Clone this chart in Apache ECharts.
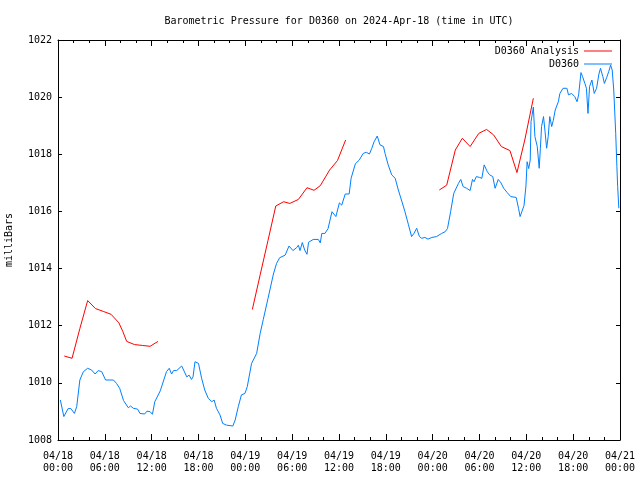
<!DOCTYPE html>
<html>
<head>
<meta charset="utf-8">
<script src="https://cdn.jsdelivr.net/npm/echarts@6/dist/echarts.min.js"></script>
<style>html,body{margin:0;padding:0;background:#fff}#c{width:640px;height:480px}</style>
</head>
<body>
<div id="c"></div>
<script>
// Hours since 2024-04-18 00:00 UTC
var analysisHours = [0.8,1.8,2.8,3.8,4.8,5.8,6.8,7.8,8.3,8.8,9.8,10.8,11.8,12.8,
  18,
  24.9,25.9,26.9,27.9,28.9,29.7,30.8,31.9,32.8,33.6,34.8,35.8,36.85,
  42,
  48.85,49.8,50.9,51.8,52.8,53.9,54.9,55.8,56.8,57.9,58.8,59.8,60.9];
var analysisValues = [1010.94,1010.86,1011.9,1012.88,1012.6,1012.5,1012.4,1012.1,1011.8,1011.45,1011.34,1011.31,1011.28,1011.45,
  null,
  1012.57,1013.78,1014.98,1016.19,1016.34,1016.28,1016.42,1016.83,1016.74,1016.9,1017.45,1017.78,1018.5,
  null,
  1016.75,1016.92,1018.15,1018.56,1018.27,1018.73,1018.87,1018.68,1018.27,1018.13,1017.36,1018.5,1019.96];

var obsHours = [0.3,0.75,1.3,1.65,2.1,2.4,2.8,3.25,3.8,4.3,4.75,5.15,5.6,6.1,7.1,7.5,7.9,8.4,9.0,9.3,9.65,10.2,10.5,11.1,11.4,11.8,12.1,12.4,
  13.1,13.9,14.25,14.55,14.8,15.2,15.85,16.1,16.5,16.8,17.1,17.3,17.55,17.7,18.0,18.4,18.8,19.25,19.7,20.0,20.3,20.75,21.1,21.6,22.4,22.7,23.1,23.5,23.95,
  24.25,24.8,25.45,25.9,26.3,26.9,27.6,28.0,28.4,29.1,29.3,29.6,30.1,30.6,30.8,31.0,31.3,31.6,31.9,32.1,32.7,33.35,33.6,33.8,34.2,34.6,35.1,35.6,
  36.05,36.35,36.8,37.3,37.55,38.1,38.6,39.1,39.5,39.9,40.2,40.5,40.9,41.25,41.7,41.9,42.3,42.75,43.2,43.6,44.0,44.45,44.9,45.3,45.6,45.95,46.3,46.6,47.0,47.4,47.9,
  48.5,49.15,49.6,49.9,50.3,50.7,51.3,51.6,51.9,52.35,52.8,53.1,53.3,53.6,54.0,54.3,54.6,55.0,55.3,55.7,56.0,56.4,56.75,57.1,57.55,58.0,58.7,59.0,59.2,59.4,59.7,59.95,
  60.1,60.3,60.5,60.6,60.75,60.9,61.1,61.4,61.65,61.8,61.95,62.2,62.4,62.6,62.8,63.0,63.25,63.45,63.7,63.9,64.1,64.3,64.7,65.2,65.4,65.8,66.2,66.5,66.7,
  67.0,67.2,67.3,67.5,67.7,67.9,68.1,68.4,68.7,69.0,69.3,69.5,69.8,70.0,70.3,70.55,70.8,71.0,71.2,71.45,71.6,71.7,71.85];
var obsValues = [1009.40,1008.82,1009.10,1009.10,1008.93,1009.17,1010.10,1010.39,1010.51,1010.45,1010.31,1010.43,1010.39,1010.10,1010.10,1009.98,1009.81,1009.38,1009.13,1009.19,1009.11,1009.08,1008.93,1008.91,1009.01,1008.99,1008.90,1009.34,
  1009.72,1010.39,1010.51,1010.31,1010.43,1010.43,1010.59,1010.54,1010.21,1010.27,1010.12,1010.21,1010.74,1010.80,1010.68,1010.16,1009.75,1009.46,1009.34,1009.40,1009.11,1008.88,1008.58,1008.52,1008.49,1008.70,1009.17,1009.58,1009.63,
  1009.87,1010.68,1011.03,1011.73,1012.22,1012.95,1013.81,1014.18,1014.38,1014.47,1014.40,1014.79,1014.63,1014.74,1014.82,1014.63,1014.91,1014.65,1014.50,1014.92,1015.02,1015.02,1014.90,1015.23,1015.23,1015.40,1015.99,1015.82,
  1016.30,1016.22,1016.61,1016.61,1017.16,1017.67,1017.80,1018.03,1018.07,1018.01,1018.21,1018.44,1018.64,1018.33,1018.27,1018.03,1017.63,1017.28,1017.16,1016.75,1016.40,1015.99,1015.53,1015.12,1015.23,1015.41,1015.12,1015.06,1015.09,1015.03,1015.09,
  1015.12,1015.23,1015.29,1015.40,1015.99,1016.63,1016.98,1017.12,1016.87,1016.81,1016.73,1017.12,1017.04,1017.22,1017.19,1017.16,1017.63,1017.39,1017.28,1017.22,1016.81,1017.12,1017.00,1016.81,1016.66,1016.52,1016.49,1016.11,1015.82,1015.76,1016.20,1016.89,
  1017.74,1017.50,1017.80,1019.14,1019.10,1019.65,1018.62,1018.27,1017.51,1018.21,1018.97,1019.32,1018.79,1018.21,1018.62,1019.32,1018.97,1019.18,1019.55,1019.49,1019.84,1020.13,1020.31,1020.31,1020.08,1020.13,1020.02,1019.84,1020.08,
  1020.86,1020.72,1020.66,1020.48,1020.31,1019.43,1020.37,1020.60,1020.13,1020.31,1020.81,1021.01,1020.72,1020.48,1020.69,1020.89,1021.12,1020.95,1020.25,1018.73,1017.57,1016.87,1016.11];

var yTicks = [1008,1010,1012,1014,1016,1018,1020,1022];
var titleText = 'Barometric Pressure for D0360 on 2024-Apr-18 (time in UTC)';

function pairs(xs, ys){ var out=[]; for(var i=0;i<xs.length;i++){ out.push([xs[i], ys[i]===null ? '-' : ys[i]]); } return out; }
function pad(n){ return (n<10?'0':'')+n; }
function xLabel(v){
  if (v % 6 !== 0) return '';
  var day = 18 + Math.floor(v/24);
  var hr = v % 24;
  return '04/' + pad(day) + '\n' + pad(hr) + ':00';
}

var FONT = 'DejaVu Sans Mono';
var chart = echarts.init(document.getElementById('c'), null, {renderer:'canvas'});
var xCommon = {
  type:'value', min:0, max:72, interval:6,
  axisLine:{show:true, onZero:false, lineStyle:{color:'#000', width:1}},
  axisTick:{show:true, inside:true, length:6, lineStyle:{color:'#000'}},
  minorTick:{show:true, splitNumber:3, length:3, lineStyle:{color:'#000'}},
  splitLine:{show:false}
};
var yCommon = {
  type:'value', min:1008, max:1022, interval:2,
  axisLine:{show:true, onZero:false, lineStyle:{color:'#000', width:1}},
  axisTick:{show:true, inside:true, length:4, lineStyle:{color:'#000'}},
  splitLine:{show:false}
};
chart.setOption({
  animation:false,
  backgroundColor:'#fff',
  title:{text:titleText, left:334, top:11, textAlign:'center',
    textStyle:{fontFamily:FONT, fontSize:10, fontWeight:'normal', color:'#000'}},
  legend:{
    data:['D0360 Analysis','D0360'], orient:'vertical', right:23, top:41, align:'right',
    icon:'rect', itemWidth:28, itemHeight:1, itemGap:3,
    textStyle:{fontFamily:FONT, fontSize:10, color:'#000'}
  },
  grid:{left:58, right:20, top:40, bottom:40, containLabel:false, outerBoundsMode:'none'},
  xAxis:[
    Object.assign({}, xCommon, {position:'bottom',
      axisLabel:{show:true, formatter:xLabel, fontFamily:FONT, fontSize:10, color:'#000', lineHeight:12, margin:10, showMinLabel:true, showMaxLabel:true}}),
    Object.assign({}, xCommon, {position:'top', axisLabel:{show:false}})
  ],
  yAxis:[
    Object.assign({}, yCommon, {position:'left',
      name:'milliBars', nameLocation:'middle', nameGap:44, nameRotate:90,
      nameTextStyle:{fontFamily:FONT, fontSize:10, color:'#000'},
      axisLabel:{show:true, fontFamily:FONT, fontSize:10, color:'#000', margin:6,
        formatter:function(v){ return yTicks.indexOf(v)>=0 ? String(v) : ''; }}}),
    Object.assign({}, yCommon, {position:'right', axisLabel:{show:false}})
  ],
  series:[
    {name:'D0360 Analysis', type:'line', xAxisIndex:0, yAxisIndex:0, data:pairs(analysisHours, analysisValues),
      showSymbol:false, connectNulls:false, color:'#ff0000', lineStyle:{width:1, color:'#ff0000'}},
    {name:'D0360', type:'line', xAxisIndex:0, yAxisIndex:0, data:pairs(obsHours, obsValues),
      showSymbol:false, color:'#0080ff', lineStyle:{width:1, color:'#0080ff'}}
  ]
});
</script>
</body>
</html>
